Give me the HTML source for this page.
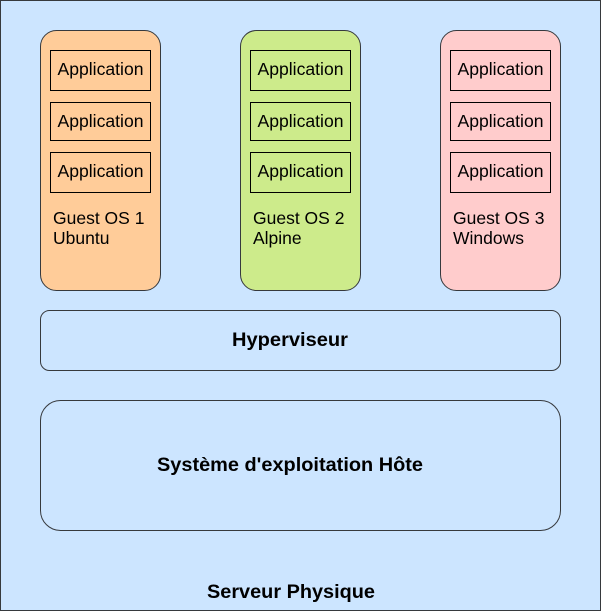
<!DOCTYPE html>
<html><head><meta charset="utf-8"><style>html,body{margin:0;padding:0;background:#fff}svg{display:block}</style></head><body>
<svg width="601" height="611" xmlns="http://www.w3.org/2000/svg" font-family="Liberation Sans, Arial, sans-serif">
<rect x="0.5" y="0.5" width="600" height="610" fill="#cce5ff" stroke="#36393d" stroke-width="1"/>
<g stroke="#36393d" stroke-width="1">
<rect x="40.5" y="30.5" width="120" height="260" rx="16" fill="#ffcc99"/>
<rect x="240.5" y="30.5" width="120" height="260" rx="16" fill="#cdeb8b"/>
<rect x="440.5" y="30.5" width="120" height="260" rx="16" fill="#ffcccc"/>
<rect x="40.5" y="310.5" width="520" height="60" rx="9" fill="#cce5ff"/>
<rect x="40.5" y="400.5" width="520" height="130" rx="20" fill="#cce5ff"/>
</g>
<g fill="none" stroke="#000" stroke-width="1">
<rect x="50.5" y="50.5" width="100" height="40"/><rect x="50.5" y="102.5" width="100" height="38"/><rect x="50.5" y="152.5" width="100" height="40"/>
<rect x="250.5" y="50.5" width="100" height="40"/><rect x="250.5" y="102.5" width="100" height="38"/><rect x="250.5" y="152.5" width="100" height="40"/>
<rect x="450.5" y="50.5" width="100" height="40"/><rect x="450.5" y="102.5" width="100" height="38"/><rect x="450.5" y="152.5" width="100" height="40"/>
</g>
<g font-size="17.3" fill="#000" text-anchor="middle">
<text x="100.5" y="75" textLength="86" lengthAdjust="spacingAndGlyphs">Application</text><text x="100.5" y="127" textLength="86" lengthAdjust="spacingAndGlyphs">Application</text><text x="100.5" y="177" textLength="86" lengthAdjust="spacingAndGlyphs">Application</text>
<text x="300.5" y="75" textLength="86" lengthAdjust="spacingAndGlyphs">Application</text><text x="300.5" y="127" textLength="86" lengthAdjust="spacingAndGlyphs">Application</text><text x="300.5" y="177" textLength="86" lengthAdjust="spacingAndGlyphs">Application</text>
<text x="500.5" y="75" textLength="86" lengthAdjust="spacingAndGlyphs">Application</text><text x="500.5" y="127" textLength="86" lengthAdjust="spacingAndGlyphs">Application</text><text x="500.5" y="177" textLength="86" lengthAdjust="spacingAndGlyphs">Application</text>
</g>
<g font-size="17.5" fill="#000">
<text x="53" y="224">Guest OS 1</text><text x="53" y="244">Ubuntu</text>
<text x="253" y="224">Guest OS 2</text><text x="253" y="244">Alpine</text>
<text x="453" y="224">Guest OS 3</text><text x="453" y="244">Windows</text>
</g>
<g font-size="19.5" font-weight="bold" fill="#000" text-anchor="middle">
<text x="290" y="346" textLength="116" lengthAdjust="spacingAndGlyphs">Hyperviseur</text>
<text x="290" y="471" textLength="266" lengthAdjust="spacingAndGlyphs">Système d'exploitation Hôte</text>
<text x="291" y="598" textLength="168" lengthAdjust="spacingAndGlyphs">Serveur Physique</text>
</g>
</svg>
</body></html>
